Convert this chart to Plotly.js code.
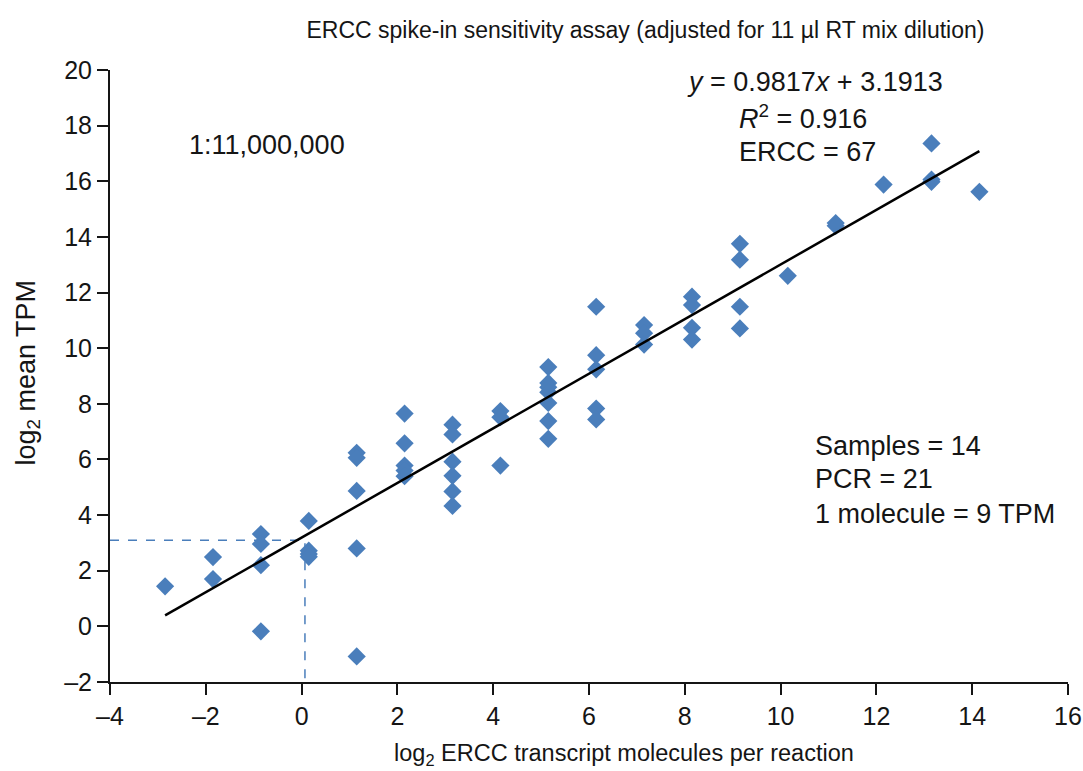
<!DOCTYPE html>
<html>
<head>
<meta charset="utf-8">
<script src="https://cdn.plot.ly/plotly-3.0.1.min.js"></script>
<style>html,body{margin:0;padding:0;background:#fff;}#chart{width:1083px;height:771px;}</style>
</head>
<body>
<div id="chart"></div>
<script>
// log2 ERCC transcript molecules per reaction
const xValues = [
  -2.85,
  -1.85, -1.85,
  -0.85, -0.85, -0.85, -0.85,
  0.15, 0.15, 0.15, 0.15,
  1.15, 1.15, 1.15, 1.15, 1.15,
  2.15, 2.15, 2.15, 2.15, 2.15,
  3.15, 3.15, 3.15, 3.15, 3.15, 3.15,
  4.15, 4.15, 4.15,
  5.15, 5.15, 5.15, 5.15, 5.15, 5.15, 5.15,
  6.15, 6.15, 6.15, 6.15, 6.15,
  7.15, 7.15, 7.15,
  8.15, 8.15, 8.15, 8.15,
  9.15, 9.15, 9.15, 9.15,
  10.15,
  11.15, 11.15,
  12.15,
  13.15, 13.15, 13.15,
  14.15
];
// log2 mean TPM
const yValues = [
  1.44,
  2.49, 1.70,
  3.32, 2.96, 2.20, -0.18,
  3.79, 2.72, 2.60, 2.50,
  6.24, 6.06, 4.87, 2.80, -1.08,
  7.65, 6.58, 5.78, 5.60, 5.40,
  7.25, 6.90, 5.92, 5.41, 4.85, 4.33,
  7.74, 7.52, 5.78,
  9.32, 8.75, 8.60, 8.42, 8.03, 7.38, 6.74,
  11.49, 9.75, 9.24, 7.83, 7.44,
  10.83, 10.54, 10.13,
  11.85, 11.55, 10.73, 10.31,
  13.75, 13.18, 11.49, 10.71,
  12.60,
  14.50, 14.40,
  15.88,
  17.36, 16.06, 15.98,
  15.62
];
// regression fit y = slope*x + intercept
const slope = 0.9817;
const intercept = 3.1913;
const fitX = [-2.85, 14.15];
const fitY = fitX.map(v => slope * v + intercept);
// 1 molecule reference guide
const guideX = [-4, 0.07, 0.07];
const guideY = [3.1, 3.1, -2];

const xTicks = [-4, -2, 0, 2, 4, 6, 8, 10, 12, 14, 16];
const yTicks = [-2, 0, 2, 4, 6, 8, 10, 12, 14, 16, 18, 20];

const font = "Liberation Sans, Arial, Helvetica, sans-serif";
const ink = '#151515';

const traces = [
  {
    x: guideX, y: guideY, mode: 'lines', type: 'scatter',
    line: {color: '#4a7ebb', width: 1.5, dash: 'dash'}, hoverinfo: 'skip', showlegend: false
  },
  {
    x: xValues, y: yValues, mode: 'markers', type: 'scatter',
    marker: {symbol: 'diamond', size: 14, color: '#4a7ebb', line: {width: 0}},
    showlegend: false
  },
  {
    x: fitX, y: fitY, mode: 'lines', type: 'scatter',
    line: {color: '#000', width: 2.5}, showlegend: false
  }
];

const annFont = {family: font, size: 27, color: ink};
const tickFont = {family: font, size: 25, color: ink};
const layout = {
  width: 1083, height: 771,
  margin: {l: 110, r: 15, t: 70, b: 89},
  paper_bgcolor: '#fff', plot_bgcolor: '#fff',
  font: {family: font, size: 20, color: ink},
  title: {
    text: 'ERCC spike-in sensitivity assay (adjusted for 11 µl RT mix dilution)',
    font: {family: font, size: 23, color: ink},
    x: 0.596, xanchor: 'center', y: 0.961, yanchor: 'middle'
  },
  xaxis: {
    range: [-4, 16], tickvals: xTicks, ticktext: xTicks.map(v => v < 0 ? '\u2013' + Math.abs(v) : String(v)),
    showgrid: false, zeroline: false, showline: true, linecolor: ink, linewidth: 2,
    ticks: 'outside', ticklen: 11, tickwidth: 2, tickcolor: ink,
    tickfont: tickFont
  },
  yaxis: {
    range: [-2, 20], tickvals: yTicks, ticktext: yTicks.map(v => v < 0 ? '\u2013' + Math.abs(v) : String(v)),
    showgrid: false, zeroline: false, showline: true, linecolor: ink, linewidth: 2,
    ticks: 'outside', ticklen: 11, tickwidth: 2, tickcolor: ink,
    tickfont: tickFont
  },
  annotations: [
    // axis titles
    {xref: 'paper', yref: 'paper', x: 0.5365, y: -0.118, xanchor: 'center', yanchor: 'middle', showarrow: false,
     text: 'log<sub>2</sub> ERCC transcript molecules per reaction', font: {family: font, size: 23.5, color: ink}},
    {xref: 'paper', yref: 'paper', x: -0.086, y: 0.505, xanchor: 'center', yanchor: 'middle', showarrow: false, textangle: -90,
     text: 'log<sub>2</sub> mean TPM', font: {family: font, size: 27, color: ink}},
    // text labels
    {xref: 'paper', yref: 'paper', x: 0.08, y: 0.877, xanchor: 'left', yanchor: 'middle', showarrow: false, text: '1:11,000,000', font: annFont},
    {xref: 'paper', yref: 'paper', x: 0.6, y: 0.98, xanchor: 'left', yanchor: 'middle', showarrow: false, text: '<i>y</i> = 0.9817<i>x</i> + 3.1913', font: annFont},
    {xref: 'paper', yref: 'paper', x: 0.655, y: 0.923, xanchor: 'left', yanchor: 'middle', showarrow: false, text: '<i>R</i><sup>2</sup> = 0.916', font: annFont},
    {xref: 'paper', yref: 'paper', x: 0.655, y: 0.866, xanchor: 'left', yanchor: 'middle', showarrow: false, text: 'ERCC = 67', font: annFont},
    {xref: 'paper', yref: 'paper', x: 0.734, y: 0.385, xanchor: 'left', yanchor: 'middle', showarrow: false, text: 'Samples = 14', font: annFont},
    {xref: 'paper', yref: 'paper', x: 0.734, y: 0.331, xanchor: 'left', yanchor: 'middle', showarrow: false, text: 'PCR = 21', font: annFont},
    {xref: 'paper', yref: 'paper', x: 0.734, y: 0.274, xanchor: 'left', yanchor: 'middle', showarrow: false, text: '1 molecule = 9 TPM', font: annFont}
  ]
};

Plotly.newPlot('chart', traces, layout, {displayModeBar: false, staticPlot: true});
</script>
</body>
</html>
